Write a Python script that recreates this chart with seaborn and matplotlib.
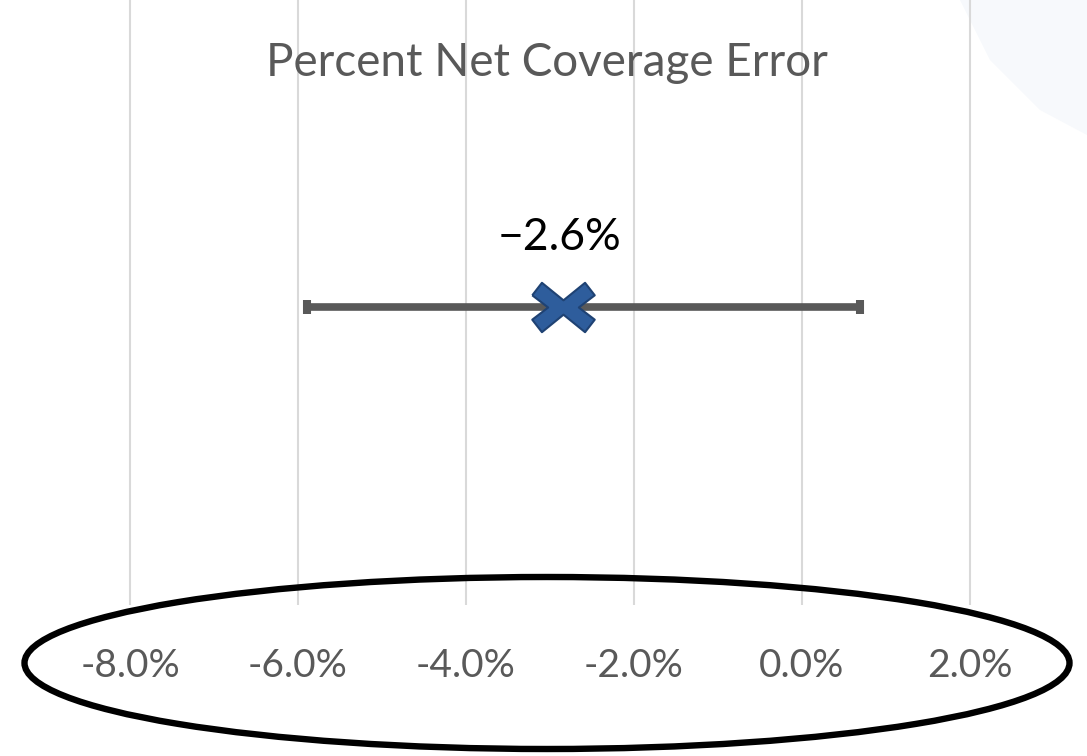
import matplotlib
matplotlib.use("Agg")
import matplotlib.pyplot as plt
from matplotlib.patches import Ellipse, Polygon
import seaborn as sns
import pandas as pd

# values (percent)
metric = ["Percent Net Coverage Error"]
estimate = [-2.85]
lower = [-5.89]
upper = [0.69]
point_label = ["\u22122.6%"]
tick_values = [-8, -6, -4, -2, 0, 2]
tick_labels = ["-8.0%", "-6.0%", "-4.0%", "-2.0%", "0.0%", "2.0%"]

df = pd.DataFrame({"metric": metric, "estimate": estimate,
                   "lower": lower, "upper": upper, "row": [0]})

sns.set_theme(style="white")
plt.rcParams["font.family"] = ["Lato", "DejaVu Sans"]

W, H = 1087, 756
fig = plt.figure(figsize=(W / 100, H / 100), dpi=100)
fig.patch.set_facecolor("white")

# faint decoration in the top right corner
fig.patches.append(Polygon([(960 / W, 1), (1, 1), (1, 1 - 135 / H),
                            (1040 / W, 1 - 110 / H), (990 / W, 1 - 60 / H)],
                           closed=True, transform=fig.transFigure,
                           fc="#F7F9FC", ec="none", zorder=-1))

ax = fig.add_axes([0, 1 - 605 / H, 1, 605 / H])
ax.set_facecolor("none")

# error bar
ax.errorbar(df["estimate"], df["row"],
            xerr=[df["estimate"] - df["lower"], df["upper"] - df["estimate"]],
            fmt="none", ecolor="#595959", elinewidth=5.5,
            capsize=4.7, capthick=5.8, zorder=3)

# X shaped marker, wider than tall
x_marker = [(-1.0, 0.39), (-0.69, 0.79), (0, 0.23), (0.69, 0.79), (1.0, 0.39),
            (0.49, 0), (1.0, -0.39), (0.69, -0.79), (0, -0.23), (-0.69, -0.79),
            (-1.0, -0.39), (-0.49, 0), (-1.0, 0.39)]
sns.scatterplot(data=df, x="estimate", y="row", marker=x_marker, s=2025,
                color="#2E5D9C", edgecolor="#1F4273", linewidth=1.5,
                zorder=4, ax=ax, legend=False)

ax.set_xlim(-9.548, 3.393)
ax.set_ylim(-2.98, 3.07)
ax.set_xticks(tick_values, tick_labels)
ax.set_yticks([])
ax.set_xlabel("")
ax.set_ylabel("")
ax.grid(axis="x", color="#D9D9D9", linewidth=1.5)
ax.grid(axis="y", visible=False)
ax.tick_params(axis="x", length=0, pad=31, labelsize=28, labelcolor="#595959")
for s in ax.spines.values():
    s.set_visible(False)

fig.text(547 / W, 1 - 63 / H, metric[0], ha="center", va="center",
         fontsize=33, color="#595959")
fig.text(560 / W, 1 - 237 / H, point_label[0], ha="center", va="center",
         fontsize=32, color="black")

# oval drawn round the axis labels
fig.patches.append(Ellipse((547 / W, 1 - 663 / H), 1045 / W, 172 / H,
                           transform=fig.transFigure, fill=False,
                           ec="black", lw=4.6, zorder=5))

fig.savefig("out.png", dpi=100)
